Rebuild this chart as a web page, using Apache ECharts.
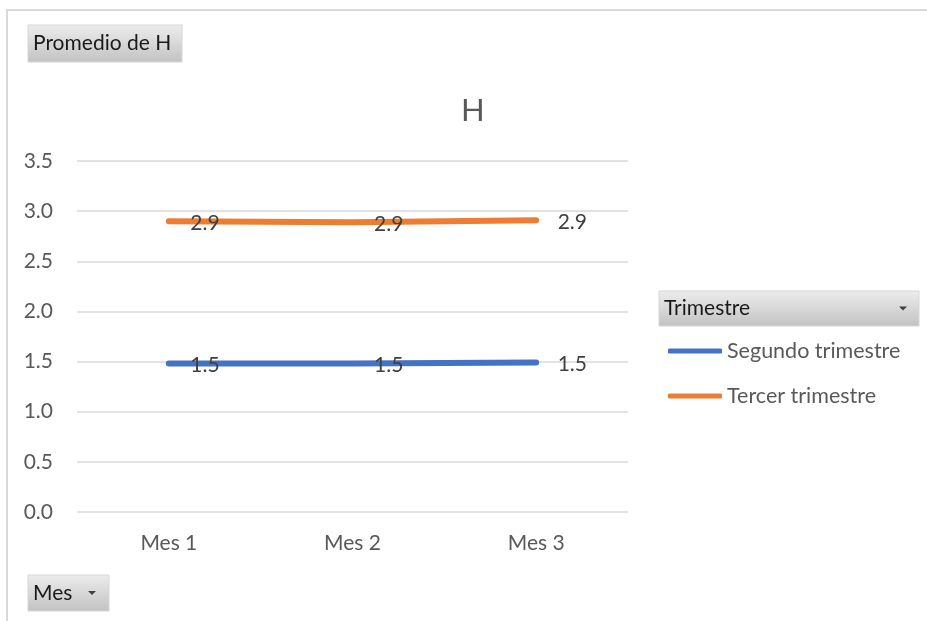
<!DOCTYPE html>
<html>
<head>
<meta charset="utf-8">
<script src="https://cdn.jsdelivr.net/npm/echarts@6/dist/echarts.min.js"></script>
<style>
  html, body { margin: 0; padding: 0; background: #ffffff; }
  #chart { width: 927px; height: 621px; }
</style>
</head>
<body>
<div id="chart"></div>
<script>
// Monthly average of H per quarter
const months = ['Mes 1', 'Mes 2', 'Mes 3'];
const seriesNames = ['Segundo trimestre', 'Tercer trimestre'];
const segundoTrimestre = [1.48, 1.48, 1.49];
const tercerTrimestre = [2.90, 2.89, 2.91];
const yTicks = [0, 0.5, 1.0, 1.5, 2.0, 2.5, 3.0, 3.5];

const FONT = 'Lato, "Open Sans", sans-serif';
const colors = ['#4472C4', '#ED7D31'];

// Pivot-style field button: grey gradient box with caption and optional dropdown arrow
function fieldButton(x, y, w, h, caption, withArrow, arrowX) {
  const children = [
    {
      type: 'rect',
      shape: { x: 0, y: 0, width: w, height: h },
      style: {
        fill: new echarts.graphic.LinearGradient(0, 0, 0, 1, [
          { offset: 0, color: '#ededed' },
          { offset: 1, color: '#c2c2c2' }
        ]),
        stroke: '#d6d6d6',
        lineWidth: 1
      }
    },
    {
      type: 'text',
      style: {
        x: 5, y: h / 2, text: caption,
        fill: '#1a1a1a', font: '21px ' + FONT,
        verticalAlign: 'middle', align: 'left'
      }
    }
  ];
  if (withArrow) {
    children.push({
      type: 'polygon',
      shape: { points: [[arrowX - 4, h / 2 - 2], [arrowX + 4, h / 2 - 2], [arrowX, h / 2 + 2]] },
      style: { fill: '#404040' }
    });
  }
  return { type: 'group', x: x, y: y, children: children };
}

function labelFmt(p) { return p.value.toFixed(1); }

function lineSeries(name, values, color) {
  return {
    name: name,
    type: 'line',
    data: values,
    symbol: 'circle',
    symbolSize: 1,
    showSymbol: true,
    itemStyle: { color: color },
    lineStyle: { color: color, width: 6, cap: 'round', join: 'round' },
    label: {
      show: true,
      position: 'right',
      distance: 21,
      offset: [0, 2],
      formatter: labelFmt,
      color: '#404040',
      fontSize: 21,
      fontFamily: FONT
    },
    emphasis: { disabled: true },
    animation: false
  };
}

const chart = echarts.init(document.getElementById('chart'), null, { renderer: 'canvas' });

chart.setOption({
  backgroundColor: '#ffffff',
  animation: false,
  color: colors,
  title: {
    text: 'H',
    left: 456,
    top: 90,
    textStyle: { color: '#595959', fontSize: 31, fontWeight: 'normal', fontFamily: FONT }
  },
  grid: { left: 77, right: 299, top: 161, bottom: 109 },
  xAxis: {
    type: 'category',
    data: months,
    boundaryGap: true,
    axisLine: { show: false },
    axisTick: { show: false },
    axisLabel: { color: '#595959', fontSize: 21, fontFamily: FONT, margin: 21 }
  },
  yAxis: {
    type: 'value',
    min: yTicks[0],
    max: yTicks[yTicks.length - 1],
    interval: 0.5,
    axisLine: { show: false },
    axisTick: { show: false },
    axisLabel: {
      color: '#595959', fontSize: 21, fontFamily: FONT, margin: 24,
      formatter: function (v) { return v.toFixed(1); }
    },
    splitLine: { lineStyle: { color: '#d9d9d9', width: 1.5 } }
  },
  legend: {
    data: seriesNames,
    orient: 'vertical',
    left: 663,
    top: 335,
    itemWidth: 54,
    itemHeight: 5,
    itemGap: 23,
    icon: 'roundRect',
    selectedMode: false,
    textStyle: { color: '#595959', fontSize: 21.5, fontFamily: FONT, lineHeight: 22 }
  },
  series: [
    lineSeries(seriesNames[0], segundoTrimestre, colors[0]),
    lineSeries(seriesNames[1], tercerTrimestre, colors[1])
  ],
  graphic: [
    {
      type: 'polyline',
      shape: { points: [[7, 621], [7, 10], [927, 10]] },
      style: { stroke: '#d9d9d9', lineWidth: 2, fill: null }
    },
    fieldButton(28, 25, 154, 37, 'Promedio de H', false, 0),
    fieldButton(28, 575, 81, 36, 'Mes', true, 64),
    fieldButton(659, 291, 260, 35, 'Trimestre', true, 244)
  ]
});
</script>
</body>
</html>
